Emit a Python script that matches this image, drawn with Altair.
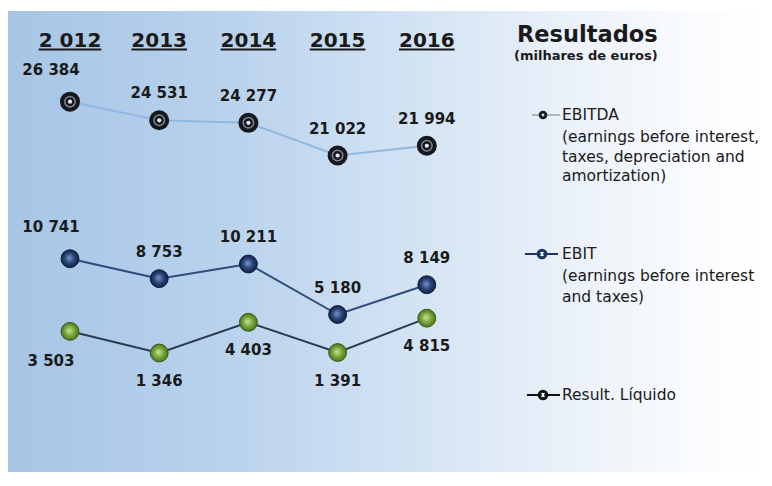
import altair as alt
import pandas as pd

# ---------------- data ----------------
years = [2012, 2013, 2014, 2015, 2016]
year_labels = ["2 012", "2013", "2014", "2015", "2016"]
ebitda = [26384, 24531, 24277, 21022, 21994]
ebit = [10741, 8753, 10211, 5180, 8149]
resultado = [3503, 1346, 4403, 1391, 4815]
series_names = ["EBITDA", "EBIT", "Result. Líquido"]

W, H = 756, 470
FONT = "DejaVu Sans"
INK = "#1a1a1a"


def fmt(v):
    return f"{v:,}".replace(",", " ")


rows = []
for name, vals in zip(series_names, [ebitda, ebit, resultado]):
    for yr, v in zip(years, vals):
        rows.append({"series": name, "year": yr, "value": v, "label": fmt(v)})
df = pd.DataFrame(rows)
hdr = pd.DataFrame({"year": years, "label": year_labels})

xs = alt.Scale(domain=[2011.305, 2019.780])
ys = alt.Scale(domain=[-11109, 35718])
X = alt.X("year:Q", scale=xs, axis=None)
Y = alt.Y("value:Q", scale=ys, axis=None)

base = alt.Chart(df)

# ---------------- background ----------------
bg = alt.Chart(pd.DataFrame({"a": [0]})).mark_rect(
    fill=alt.LinearGradient(
        gradient="linear",
        stops=[
            alt.GradientStop(color="#a6c5e5", offset=0),
            alt.GradientStop(color="#bad3ed", offset=0.3),
            alt.GradientStop(color="#d5e4f4", offset=0.55),
            alt.GradientStop(color="#ebf2f9", offset=0.75),
            alt.GradientStop(color="#f9fbfe", offset=0.9),
            alt.GradientStop(color="#ffffff", offset=1),
        ],
        x1=0, x2=1, y1=0, y2=0,
    )
).encode(x=alt.value(0), x2=alt.value(W), y=alt.value(3), y2=alt.value(464))

# ---------------- lines ----------------
lines = base.mark_line(strokeWidth=2).encode(
    x=X, y=Y,
    color=alt.Color("series:N",
                    scale=alt.Scale(domain=series_names,
                                    range=["#8fb9e2", "#2d4b7d", "#2a3a4c"]),
                    legend=None),
)

# ---------------- points ----------------
f_ebitda = alt.datum.series == "EBITDA"
f_ebit = alt.datum.series == "EBIT"
f_res = alt.datum.series == "Result. Líquido"

p1a = base.transform_filter(f_ebitda).mark_circle(size=400, color="#15181e", opacity=1).encode(x=X, y=Y)
p1b = base.transform_filter(f_ebitda).mark_point(size=110, filled=False, color="#7f868e",
                                                 strokeWidth=1.5, opacity=1).encode(x=X, y=Y)
p1c = base.transform_filter(f_ebitda).mark_circle(size=18, color="#e6e9ec", opacity=1).encode(x=X, y=Y)

p2 = base.transform_filter(f_ebit).mark_circle(
    size=320, opacity=1, stroke="#0e1c3c", strokeWidth=1,
    fill=alt.RadialGradient(
        gradient="radial",
        stops=[alt.GradientStop(color="#7b98c8", offset=0),
               alt.GradientStop(color="#2a4679", offset=0.55),
               alt.GradientStop(color="#11224a", offset=1)],
        x1=0.45, y1=0.45, r1=0, x2=0.5, y2=0.5, r2=0.5),
).encode(x=X, y=Y)

p3 = base.transform_filter(f_res).mark_circle(
    size=320, opacity=1, stroke="#3b5a1b", strokeWidth=1,
    fill=alt.RadialGradient(
        gradient="radial",
        stops=[alt.GradientStop(color="#c9e395", offset=0),
               alt.GradientStop(color="#79a63c", offset=0.55),
               alt.GradientStop(color="#4c7420", offset=1)],
        x1=0.45, y1=0.45, r1=0, x2=0.5, y2=0.5, r2=0.5),
).encode(x=X, y=Y)

# ---------------- value labels ----------------
lab_kw = dict(font=FONT, fontSize=15, fontWeight="bold", color=INK, baseline="middle")
above = "datum.series != 'Result. Líquido'"
below = "datum.series == 'Result. Líquido'"
l_above = base.transform_filter(f"{above} && datum.year != 2012").mark_text(dy=-27, **lab_kw).encode(x=X, y=Y, text="label:N")
l_above0 = base.transform_filter(f"{above} && datum.year == 2012").mark_text(dy=-32, dx=-19, **lab_kw).encode(x=X, y=Y, text="label:N")
l_below = base.transform_filter(f"{below} && datum.year != 2012").mark_text(dy=28, **lab_kw).encode(x=X, y=Y, text="label:N")
l_below0 = base.transform_filter(f"{below} && datum.year == 2012").mark_text(dy=30, dx=-19, **lab_kw).encode(x=X, y=Y, text="label:N")

# ---------------- year headers ----------------
headers = alt.Chart(hdr).mark_text(font=FONT, fontSize=20, fontWeight="bold", color=INK,
                                   baseline="alphabetic").encode(
    x=alt.X("year:Q", scale=xs, axis=None), y=alt.value(38.5), text="label:N")
underline = alt.Chart(hdr).transform_calculate(
    hw="length(datum.label) > 4 ? 0.351 : 0.312",
    xa="datum.year - datum.hw", xb="datum.year + datum.hw",
).mark_rule(strokeWidth=2, color=INK).encode(
    x=alt.X("xa:Q", scale=xs, axis=None), x2="xb:Q", y=alt.value(41.5))


# ---------------- legend (drawn) ----------------
def txt(s, x, y, size=15.5, weight="normal"):
    return alt.Chart(pd.DataFrame({"t": [s]})).mark_text(
        font=FONT, fontSize=size, fontWeight=weight, align="left",
        baseline="middle", color=INK).encode(x=alt.value(x), y=alt.value(y), text="t:N")


def seg(x1, x2, y, color, w=2):
    return alt.Chart(pd.DataFrame({"a": [0]})).mark_rule(color=color, strokeWidth=w).encode(
        x=alt.value(x1), x2=alt.value(x2), y=alt.value(y))


def dot(x, y, size, color, filled=True, sw=1):
    if filled:
        m = alt.Chart(pd.DataFrame({"a": [0]})).mark_circle(size=size, color=color, opacity=1)
    else:
        m = alt.Chart(pd.DataFrame({"a": [0]})).mark_point(size=size, color=color, filled=False,
                                                            strokeWidth=sw, opacity=1)
    return m.encode(x=alt.value(x), y=alt.value(y))


legend = [
    txt("Resultados", 509, 27, size=22.5, weight="bold"),
    txt("(milhares de euros)", 506, 48, size=13, weight="bold"),
    # EBITDA
    seg(524, 552, 107, "#9aa3ad", 1.5),
    dot(535, 107, 75, "#15181e"),
    dot(535, 107, 8, "#d8dce0"),
    txt("EBITDA", 554, 107),
    txt("(earnings before interest,", 554, 128.5),
    txt("taxes, depreciation and", 554, 148.5),
    txt("amortization)", 554, 167.5),
    # EBIT
    seg(517, 550, 246, "#1d3566", 2),
    dot(534, 246, 60, "#1d3566", filled=False, sw=3),
    dot(534, 246, 8, "#e8eef6"),
    txt("EBIT", 554, 246),
    txt("(earnings before interest", 554, 268),
    txt("and taxes)", 554, 289),
    # Result
    seg(519, 552, 387, "#111111", 2),
    dot(535, 387, 60, "#111111", filled=False, sw=3),
    dot(535, 387, 8, "#ffffff"),
    txt("Result. Líquido", 554, 387),
]

chart = alt.layer(
    bg, lines, p1a, p1b, p1c, p2, p3,
    l_above, l_above0, l_below, l_below0,
    headers, underline, *legend,
).properties(
    width=W, height=H, padding=0,
    autosize=alt.AutoSizeParams(type="none"),
    background="#ffffff",
).configure_view(strokeWidth=0)

chart.save("out.html", embed_options={"renderer": "svg", "actions": False})
